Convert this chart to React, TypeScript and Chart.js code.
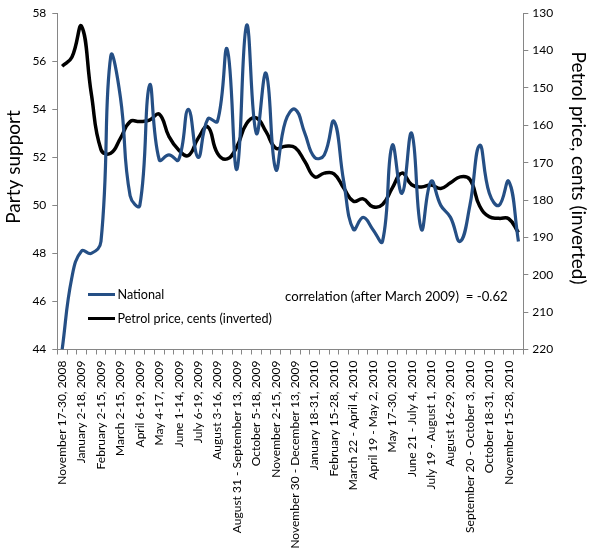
import { useEffect, useRef } from 'react';
import { Chart, registerables, type ChartConfiguration, type Plugin } from 'chart.js';

Chart.register(...registerables);

const FONT = 'Lato, "Liberation Sans", sans-serif';

// every other poll period is labelled on the axis, as in the original
const periods = [
  'November 17-30, 2008', '',
  'January 2-18, 2009', '',
  'February 2-15, 2009', '',
  'March 2-15, 2009', '',
  'April 6-19, 2009', '',
  'May 4-17, 2009', '',
  'June 1-14, 2009', '',
  'July 6-19, 2009', '',
  'August 3-16, 2009', '',
  'August 31 - September 13, 2009', '',
  'October 5-18, 2009', '',
  'November 2-15, 2009', '',
  'November 30 - December 13, 2009', '',
  'January 18-31, 2010', '',
  'February 15-28, 2010', '',
  'March 22 - April 4, 2010', '',
  'April 19 - May 2, 2010', '',
  'May 17-30, 2010', '',
  'June 21 - July 4, 2010', '',
  'July 19 - August 1, 2010', '',
  'August 16-29, 2010', '',
  'September 20 - October 3, 2010', '',
  'October 18-31, 2010', '',
  'November 15-28, 2010', '',
];

const national = [
  44.0, 47.0, 48.1, 48.0, 48.5, 56.2, 54.5, 50.4, 50.0, 55.0, 51.9, 52.1,
  51.9, 54.0, 52.0, 53.6, 53.5, 56.5, 51.5, 57.5, 53.0, 55.5, 51.5, 53.5,
  54.0, 53.0, 52.0, 52.1, 53.5, 51.0, 49.0, 49.5, 49.0, 48.5, 52.5, 50.5,
  53.0, 49.0, 51.0, 50.0, 49.5, 48.5, 50.0, 52.5, 50.5, 50.0, 51.0, 48.5,
];

const petrol = [
  144.2, 141.8, 133.5, 151.5, 166.5, 167.5, 163.5, 159.0, 159.0, 158.6, 157.0, 163.0,
  166.6, 168.1, 163.5, 160.4, 167.5, 169.0, 165.7, 159.5, 158.0, 161.7, 166.1, 165.6,
  166.0, 169.7, 173.8, 172.8, 173.0, 176.8, 180.3, 179.7, 181.8, 181.2, 176.8, 172.8,
  175.9, 176.5, 176.0, 176.9, 175.4, 173.8, 174.5, 181.6, 184.5, 184.9, 185.0, 188.7,
];

const leftTitle = 'Party support';
const rightTitle = 'Petrol price, cents (inverted)';
const correlationNote = 'correlation (after March 2009)  = -0.62';

const AXIS_GREY = '#868686';

// axis titles (Excel puts them a little above the axis middle), legend and note inside the plot
const overlay: Plugin = {
  id: 'overlay',
  afterDraw(chart) {
    const ctx = chart.ctx;
    ctx.save();
    ctx.textBaseline = 'middle';
    ctx.fillStyle = '#000';

    ctx.font = `19px ${FONT}`;
    ctx.textAlign = 'center';
    ctx.save();
    ctx.translate(14, 167);
    ctx.rotate(-Math.PI / 2);
    ctx.fillText(leftTitle, 0, 0);
    ctx.restore();
    ctx.save();
    ctx.translate(578, 168);
    ctx.rotate(Math.PI / 2);
    ctx.fillText(rightTitle, 0, 0);
    ctx.restore();

    ctx.textAlign = 'left';
    ctx.font = `12.6px ${FONT}`;
    const rows = [294.5, 318.5];
    chart.data.datasets.forEach((ds, k) => {
      const y = rows[k];
      ctx.strokeStyle = ds.borderColor as string;
      ctx.lineWidth = 3;
      ctx.beginPath();
      ctx.moveTo(88, y);
      ctx.lineTo(115, y);
      ctx.stroke();
      ctx.fillText(ds.label ?? '', 117.5, y + 0.5);
    });
    ctx.font = `13.2px ${FONT}`;
    ctx.fillText(correlationNote, 285, 297);
    ctx.restore();
  },
};

export default function App() {
  const canvasRef = useRef<HTMLCanvasElement>(null);
  const chartRef = useRef<Chart | null>(null);

  useEffect(() => {
    document.body.style.margin = '0';
    const canvas = canvasRef.current;
    if (!canvas) return;
    chartRef.current?.destroy();

    const tickFont = { family: FONT, size: 12 };

    const config: ChartConfiguration = {
      type: 'line',
      data: {
        labels: periods,
        datasets: [
          {
            label: 'National',
            data: national,
            yAxisID: 'y',
            borderColor: '#254f85',
            borderWidth: 3.2,
            pointRadius: 0,
            tension: 0.45,
          },
          {
            label: 'Petrol price, cents (inverted)',
            data: petrol,
            yAxisID: 'y1',
            borderColor: '#000000',
            borderWidth: 3.5,
            pointRadius: 0,
            tension: 0.45,
          },
        ],
      },
      options: {
        responsive: true,
        maintainAspectRatio: false,
        animation: false,
        layout: { padding: { top: 11 } },
        plugins: {
          legend: { display: false },
          tooltip: { enabled: false },
        },
        scales: {
          x: {
            offset: true,
            grid: { offset: true, drawOnChartArea: false, tickLength: 5, color: AXIS_GREY },
            border: { color: AXIS_GREY },
            ticks: {
              autoSkip: false,
              minRotation: 90,
              maxRotation: 90,
              padding: 6,
              color: '#000',
              font: tickFont,
            },
            afterFit: (s) => { s.height = 206.5; },
          },
          y: {
            position: 'left',
            min: 44,
            max: 58,
            ticks: { stepSize: 2, color: '#000', font: tickFont, padding: 6 },
            grid: { drawOnChartArea: false, tickLength: 5, color: AXIS_GREY },
            border: { color: AXIS_GREY },
            afterFit: (s) => { s.width = 57.3; },
          },
          y1: {
            position: 'right',
            min: 130,
            max: 220,
            reverse: true,
            ticks: { stepSize: 10, color: '#000', font: tickFont, padding: 4 },
            grid: { drawOnChartArea: false, tickLength: 5, color: AXIS_GREY },
            border: { color: AXIS_GREY },
            afterFit: (s) => { s.width = 69.7; },
          },
        },
      },
      plugins: [overlay],
    };

    chartRef.current = new Chart(canvas, config);
    return () => { chartRef.current?.destroy(); chartRef.current = null; };
  }, []);

  return (
    <div style={{ position: 'absolute', left: 0, top: 0, width: 593, height: 556, background: '#fff' }}>
      <canvas ref={canvasRef} />
    </div>
  );
}
